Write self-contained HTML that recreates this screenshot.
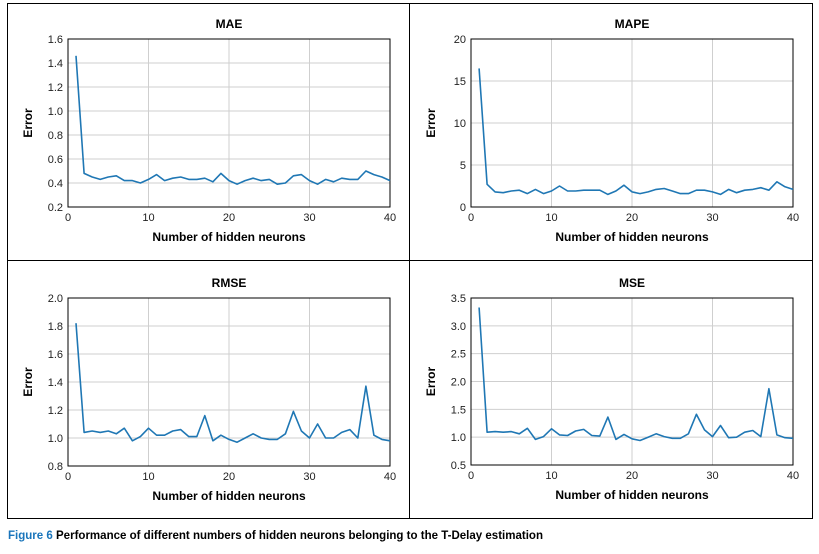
<!DOCTYPE html>
<html><head><meta charset="utf-8"><style>
body{margin:0;background:#fff;}
svg{display:block;font-family:"Liberation Sans",sans-serif;}
</style></head><body>
<svg id="fig" width="819" height="554" viewBox="0 0 819 554">
<rect x="7.5" y="3.5" width="805" height="515" fill="none" stroke="#000" stroke-width="1"/>
<line x1="409.5" y1="3" x2="409.5" y2="518" stroke="#000"/>
<line x1="7" y1="260.5" x2="812" y2="260.5" stroke="#000"/>
<text x="8" y="539" font-size="12" font-weight="bold" textLength="535" lengthAdjust="spacingAndGlyphs"><tspan fill="#1a75bb">Figure 6</tspan> Performance of different numbers of hidden neurons belonging to the T-Delay estimation</text>
</svg>
<script>
const xTicks=[0,10,20,30,40];
const maeVals=[1.46,0.48,0.45,0.43,0.45,0.46,0.42,0.42,0.40,0.43,0.47,0.42,0.44,0.45,0.43,0.43,0.44,0.41,0.48,0.42,0.39,0.42,0.44,0.42,0.43,0.39,0.40,0.46,0.47,0.42,0.39,0.43,0.41,0.44,0.43,0.43,0.50,0.47,0.45,0.42];
const mapeVals=[16.5,2.7,1.8,1.7,1.9,2.0,1.6,2.1,1.6,1.9,2.5,1.9,1.9,2.0,2.0,2.0,1.5,1.9,2.6,1.8,1.6,1.8,2.1,2.2,1.9,1.6,1.6,2.0,2.0,1.8,1.5,2.1,1.7,2.0,2.1,2.3,2.0,3.0,2.4,2.1];
const rmseVals=[1.82,1.04,1.05,1.04,1.05,1.03,1.07,0.98,1.01,1.07,1.02,1.02,1.05,1.06,1.01,1.01,1.16,0.98,1.02,0.99,0.97,1.00,1.03,1.00,0.99,0.99,1.03,1.19,1.05,1.00,1.10,1.00,1.00,1.04,1.06,1.00,1.37,1.02,0.99,0.98];
const mseVals=[3.33,1.09,1.10,1.09,1.10,1.06,1.16,0.96,1.01,1.15,1.04,1.03,1.11,1.14,1.03,1.02,1.36,0.96,1.05,0.97,0.94,1.00,1.06,1.01,0.98,0.98,1.06,1.41,1.13,1.01,1.21,0.99,1.00,1.09,1.12,1.01,1.87,1.04,0.99,0.98];
const maeTicks=["0.2","0.4","0.6","0.8","1.0","1.2","1.4","1.6"];
const mapeTicks=["0","5","10","15","20"];
const rmseTicks=["0.8","1.0","1.2","1.4","1.6","1.8","2.0"];
const mseTicks=["0.5","1.0","1.5","2.0","2.5","3.0","3.5"];

const NS="http://www.w3.org/2000/svg";
const svg=document.getElementById('fig');
function mk(tag,attrs,parent){const e=document.createElementNS(NS,tag);for(const k in attrs)e.setAttribute(k,attrs[k]);(parent||svg).appendChild(e);return e;}

function panel(key,title,vals,ticks,L,T,R,B){
  const g=mk('g',{});
  
  
  const ymin=parseFloat(ticks[0]),ymax=parseFloat(ticks[ticks.length-1]);
  const sx=v=>L+(v-xTicks[0])/(xTicks[xTicks.length-1]-xTicks[0])*(R-L);
  const sy=v=>B-(v-ymin)/(ymax-ymin)*(B-T);
  xTicks.forEach(t=>{
    const x=sx(t);
    if(t!==xTicks[0]&&t!==xTicks[xTicks.length-1]){const l=mk('line',{x1:x,y1:T,x2:x,y2:B,stroke:'#cfcfcf','stroke-width':1},g);
    
    }
    const tx=mk('text',{x:x,y:B+14,'font-size':11,'text-anchor':'middle',fill:'#222'},g);tx.textContent=t;
    
    
  });
  ticks.forEach((t,i)=>{
    const y=sy(parseFloat(t));
    if(i>0&&i<ticks.length-1){const l=mk('line',{x1:L,y1:y,x2:R,y2:y,stroke:'#cfcfcf','stroke-width':1},g);
    
    }
    const tx=mk('text',{x:L-5,y:y+4,'font-size':11,'text-anchor':'end',fill:'#222'},g);tx.textContent=t;
    
    
  });
  const fr=mk('rect',{x:L,y:T,width:R-L,height:B-T,fill:'none',stroke:'#000','stroke-width':1},g);
  
  
  const pts=vals.map((v,i)=>sx(i+1).toFixed(1)+','+sy(v).toFixed(1)).join(' ');
  const pl=mk('polyline',{points:pts,fill:'none',stroke:'#1f77b4','stroke-width':1.6,'stroke-linejoin':'round'},g);
  
  
  const tt=mk('text',{x:(L+R)/2,y:T-11,'font-size':12,'font-weight':'bold','text-anchor':'middle'},g);tt.textContent=title;
  
  
  const xl=mk('text',{x:(L+R)/2,y:B+34,'font-size':12,'font-weight':'bold','text-anchor':'middle'},g);xl.textContent='Number of hidden neurons';
  
  
  const cy=(T+B)/2,cx=L-36;
  const yl=mk('text',{x:cx,y:cy,'font-size':12,'font-weight':'bold','text-anchor':'middle',transform:'rotate(-90 '+cx+' '+cy+')'},g);yl.textContent='Error';
  
  
}
panel('mae','MAE',maeVals,maeTicks,68,39,390,207);
panel('mape','MAPE',mapeVals,mapeTicks,471,39,793,207);
panel('rmse','RMSE',rmseVals,rmseTicks,68,298,390,466);
panel('mse','MSE',mseVals,mseTicks,471,298,793,465);
</script>
</body></html>
